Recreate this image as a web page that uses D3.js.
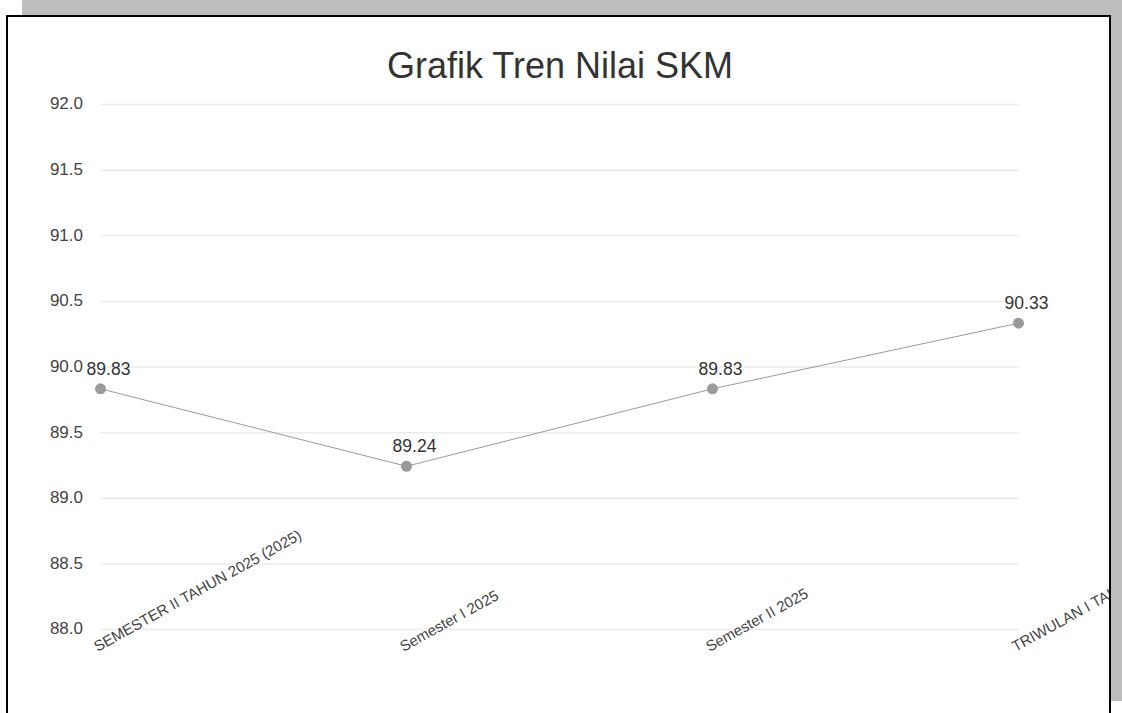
<!DOCTYPE html>
<html>
<head>
<meta charset="utf-8">
<title>Grafik Tren Nilai SKM</title>
<script src="https://cdn.jsdelivr.net/npm/d3@7"></script>
<style>
  html, body { margin: 0; padding: 0; background: #fff; overflow: hidden; }
  svg text { font-family: "Liberation Sans", Arial, sans-serif; }
  .title { fill: #333; font-size: 36px; }
  .tick-label { fill: #444; font-size: 17px; }
  .x-label { fill: #444; font-size: 15px; }
  .value-label { fill: #333; font-size: 17.5px; }
  .grid line { stroke: #ebebeb; stroke-width: 1.5; }
  .grid path { display: none; }
  .line { fill: none; stroke: #9a9a9a; stroke-width: 1; }
  .dot { fill: #9a9a9a; }
</style>
</head>
<body>
<div id="chart"></div>
<script>
/* Grafik Tren Nilai SKM */

const categories = [
  'SEMESTER II TAHUN 2025 (2025)',
  'Semester I 2025',
  'Semester II 2025',
  'TRIWULAN I TAHUN 2026'
];
const values = [89.83, 89.24, 89.83, 90.33];
const yDomain = [88, 92];
const yTicks = [88.0, 88.5, 89.0, 89.5, 90.0, 90.5, 91.0, 91.5, 92.0];
const chartTitle = 'Grafik Tren Nilai SKM';

(() => {
  'use strict';

  const size = { width: 1122, height: 713 };
  const panel = { x: 7, y: 16, width: 1103, height: 720 };

  const svg = d3.select('#chart')
    .append('svg')
    .attr('width', size.width)
    .attr('height', size.height);

  // grey backdrop behind the white panel
  svg.append('rect')
    .attr('x', 22)
    .attr('y', 0)
    .attr('width', size.width - 22)
    .attr('height', 701)
    .style('fill', '#bdbdbd');

  svg.append('rect')
    .attr('x', panel.x)
    .attr('y', panel.y)
    .attr('width', panel.width)
    .attr('height', panel.height)
    .style('fill', '#fff')
    .style('stroke', '#000')
    .style('stroke-width', 2);

  // the last category label runs past the panel edge and is cut there
  svg.append('defs').append('clipPath')
    .attr('id', 'clip-panel')
    .append('rect')
    .attr('x', panel.x + 1)
    .attr('y', panel.y + 1)
    .attr('width', panel.width - 2)
    .attr('height', panel.height - 2);

  const graph = svg.append('g')
    .attr('clip-path', 'url(#clip-panel)');

  const xScale = d3.scalePoint()
    .domain(categories)
    .range([100.5, 1018.5]);

  const yScale = d3.scaleLinear()
    .domain(yDomain)
    .range([629, 104]);

  graph.append('text')
    .attr('class', 'title')
    .attr('text-anchor', 'middle')
    .attr('x', 560)
    .attr('y', 78)
    .text(chartTitle);

  // horizontal grid
  const yGrid = d3.axisLeft(yScale)
    .tickValues(yTicks)
    .tickSize(-(xScale.range()[1] - xScale.range()[0]))
    .tickFormat('');

  graph.append('g')
    .attr('class', 'grid')
    .attr('transform', 'translate(' + xScale.range()[0] + ',0)')
    .call(yGrid);

  graph.append('g')
    .selectAll('text')
    .data(yTicks)
    .join('text')
    .attr('class', 'tick-label')
    .attr('text-anchor', 'end')
    .attr('x', 83)
    .attr('y', d => yScale(d))
    .attr('dy', '0.32em')
    .text(d3.format('.1f'));

  // rotated category labels
  graph.append('g')
    .selectAll('text')
    .data(categories)
    .join('text')
    .attr('class', 'x-label')
    .attr('transform', d => 'translate(' + (xScale(d) - 3) + ',652) rotate(-29)')
    .text(d => d);

  const points = categories.map((c, i) => ({ x: c, y: values[i] }));

  const line = d3.line()
    .x(d => xScale(d.x))
    .y(d => yScale(d.y));

  graph.append('path')
    .datum(points)
    .attr('class', 'line')
    .attr('d', line);

  graph.append('g')
    .selectAll('circle')
    .data(points)
    .join('circle')
    .attr('class', 'dot')
    .attr('cx', d => xScale(d.x))
    .attr('cy', d => yScale(d.y))
    .attr('r', 5.5);

  graph.append('g')
    .selectAll('text')
    .data(points)
    .join('text')
    .attr('class', 'value-label')
    .attr('text-anchor', 'middle')
    .attr('x', d => xScale(d.x) + 8)
    .attr('y', d => yScale(d.y) - 14)
    .text(d => d3.format('.2f')(d.y));
})();
</script>
</body>
</html>
